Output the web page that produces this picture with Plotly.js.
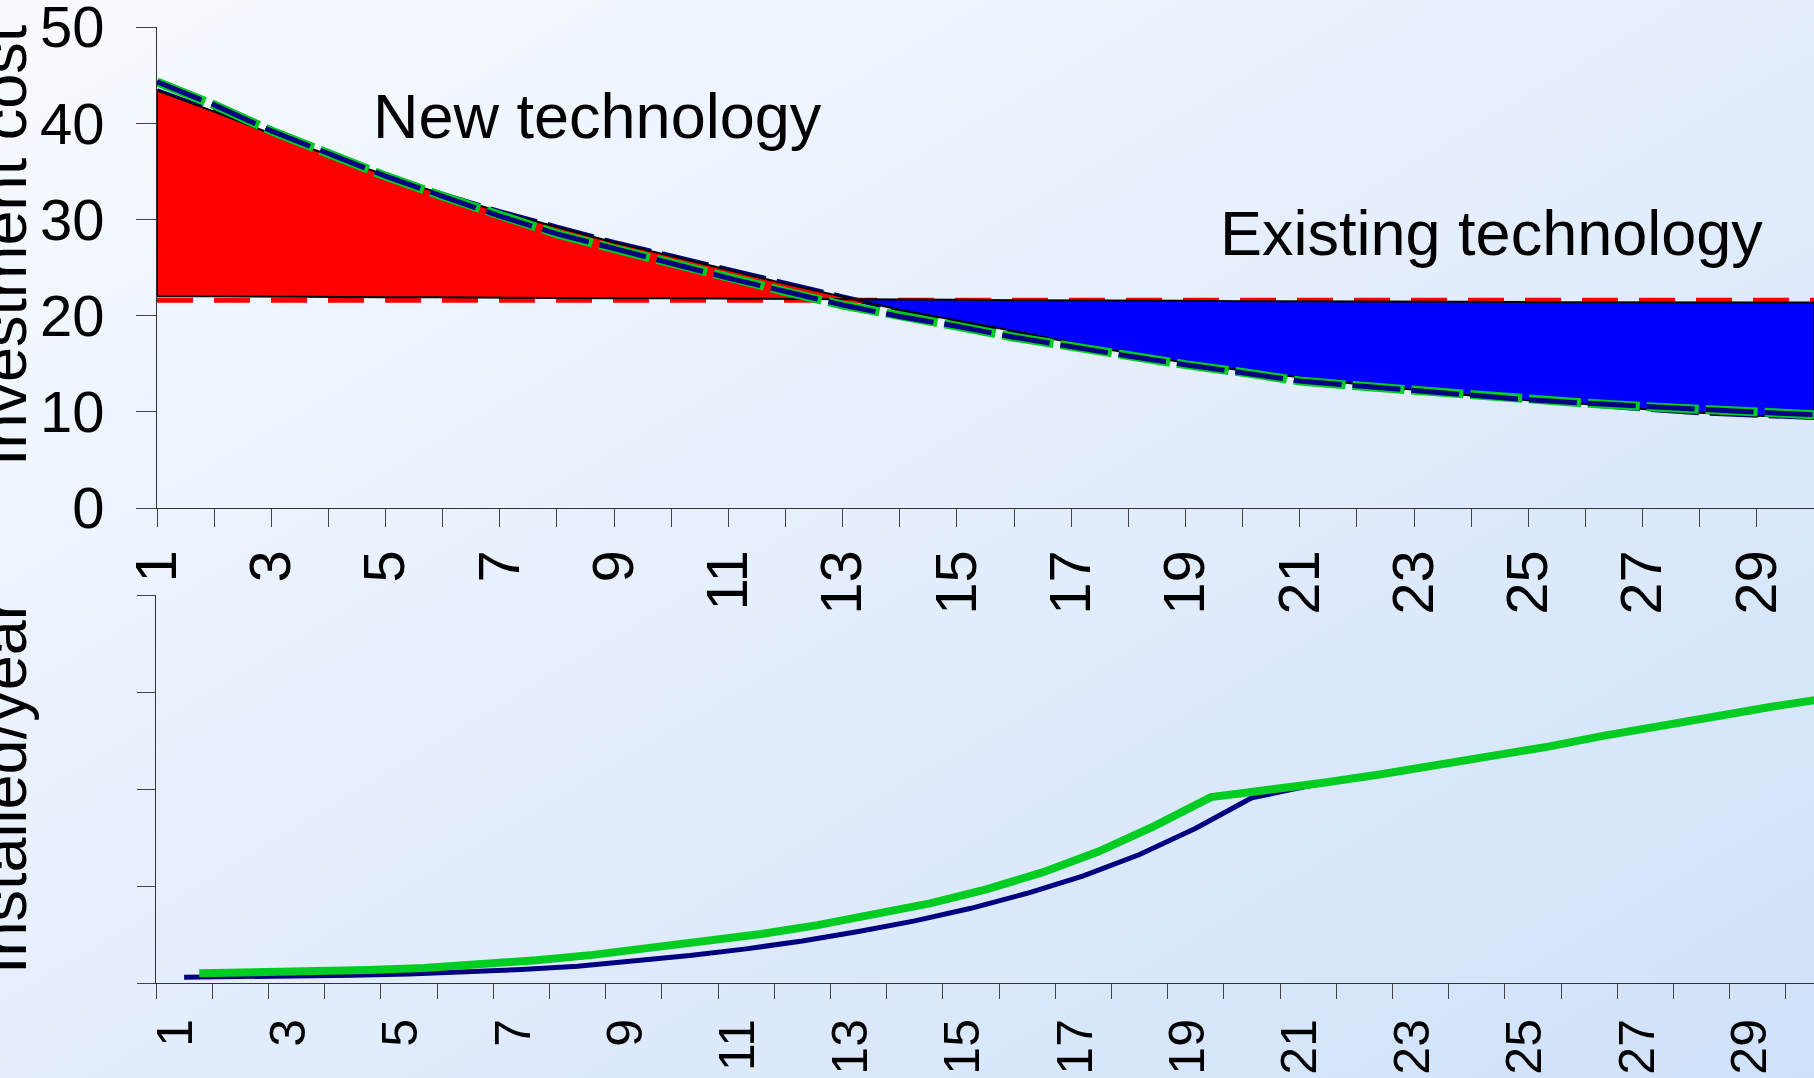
<!DOCTYPE html>
<html>
<head>
<meta charset="utf-8">
<script src="https://cdn.plot.ly/plotly-3.0.1.min.js"></script>
<style>
  html, body { margin: 0; padding: 0; overflow: hidden; }
  body { width: 1814px; height: 1078px;
         background: linear-gradient(to bottom right, #F8FBFF 0%, #E4EEFC 50%, #CFE1F9 100%); }
  #chart { width: 1814px; height: 1078px; }
</style>
</head>
<body>
<div id="chart"></div>
<script>
// ---------- data ----------
const years = [1,2,3,4,5,6,7,8,9,10,11,12,13,14,15,16,17,18,19,20,21,22,23,24,25,26,27,28,29,30];

// Investment cost of the new technology (outline of the shaded areas)
const newTechCost = [43.4,41.2,38.9,36.7,34.6,32.6,30.8,29.2,27.6,26.2,24.75,23.3,21.95,20.6,19.5,18.4,17.2,16.1,15.1,14.3,13.6,12.9,12.3,11.7,11.2,10.8,10.3,9.9,9.6,9.4];
// Investment cost of the new technology (dashed curve)
const newTechCurve = [44.3,41.9,39.2,36.8,34.5,32.4,30.35,28.5,26.95,25.4,23.9,22.5,21.1,19.9,18.9,17.75,16.75,15.8,14.9,14.1,13.2,12.7,12.2,11.7,11.25,10.9,10.55,10.2,9.95,9.7];
// Investment cost of the existing technology (outline of the shaded areas)
const existingCost = [22.0,22.0,21.95,21.95,21.9,21.9,21.85,21.85,21.8,21.8,21.75,21.75,21.7,21.7,21.65,21.6,21.6,21.55,21.55,21.5,21.5,21.5,21.45,21.45,21.4,21.4,21.4,21.35,21.35,21.35];
// Investment cost of the existing technology (red dashed line)
const existingCurve = [21.6,21.6,21.6,21.6,21.6,21.6,21.6,21.6,21.6,21.6,21.6,21.6,21.6,21.6,21.6,21.6,21.6,21.6,21.6,21.6,21.6,21.6,21.6,21.6,21.6,21.6,21.6,21.6,21.6,21.6];

// Installed per year (lower panel)
const installedBlue = [0.06,0.064,0.071,0.08,0.094,0.113,0.138,0.172,0.222,0.283,0.352,0.433,0.53,0.64,0.77,0.925,1.105,1.325,1.595,1.91,2.03,2.13,2.22,2.31,2.41,2.52,2.63,2.73,2.82,2.92];
const installedGreen = [0.10,0.108,0.118,0.133,0.155,0.19,0.235,0.29,0.355,0.423,0.505,0.597,0.70,0.82,0.965,1.14,1.355,1.62,1.916,1.986,2.064,2.15,2.24,2.335,2.437,2.55,2.66,2.75,2.85,2.94];

const titleTop = "Investment cost";
const titleBottom = "Installed/year";
const labelNew = "New technology";
const labelExisting = "Existing technology";

// ---------- derived shapes ----------
const oddYears = years.filter(y => y % 2 === 1);
const topTickText = years.map(y => (y % 2 === 1 ? String(y) : ''));
const boundaries = years.map(y => y - 0.5);

// crossing of new and existing technology cost
let ci = 0;
for (let i = 0; i < years.length - 1; i++) {
  if (newTechCost[i] >= existingCost[i] && newTechCost[i + 1] < existingCost[i + 1]) { ci = i; break; }
}
const d0 = newTechCost[ci] - existingCost[ci];
const d1 = newTechCost[ci + 1] - existingCost[ci + 1];
const t = d0 / (d0 - d1);
const xc = years[ci] + t * (years[ci + 1] - years[ci]);
const yc = existingCost[ci] + t * (existingCost[ci + 1] - existingCost[ci]);

// red polygon (new technology more expensive)
const redX = [], redY = [];
for (let i = 0; i <= ci; i++) { redX.push(years[i]); redY.push(newTechCost[i]); }
redX.push(xc); redY.push(yc);
for (let i = ci; i >= 0; i--) { redX.push(years[i]); redY.push(existingCost[i]); }
redX.push(years[0]); redY.push(newTechCost[0]);

// blue polygon (new technology cheaper)
const blueX = [xc], blueY = [yc];
for (let i = ci + 1; i < years.length; i++) { blueX.push(years[i]); blueY.push(existingCost[i]); }
for (let i = years.length - 1; i > ci; i--) { blueX.push(years[i]); blueY.push(newTechCost[i]); }
blueX.push(xc); blueY.push(yc);

const NAVY = '#000080', GREEN = '#00CC22', RED = '#FF0000', BLUE = '#0000FF';

const traces = [
  { x: years, y: newTechCost, type: 'scatter', mode: 'lines', xaxis: 'x', yaxis: 'y',
    line: { color: NAVY, width: 5, dash: '48px,11px' }, hoverinfo: 'skip' },
  { x: years, y: existingCurve, type: 'scatter', mode: 'lines', xaxis: 'x', yaxis: 'y',
    line: { color: RED, width: 5, dash: '36px,21px' }, hoverinfo: 'skip' },
  { x: redX, y: redY, type: 'scatter', mode: 'lines', fill: 'toself', fillcolor: RED,
    xaxis: 'x', yaxis: 'y', line: { color: '#000', width: 2 }, hoverinfo: 'skip' },
  { x: blueX, y: blueY, type: 'scatter', mode: 'lines', fill: 'toself', fillcolor: BLUE,
    xaxis: 'x', yaxis: 'y', line: { color: '#000', width: 2 }, hoverinfo: 'skip' },
  { x: years, y: newTechCurve, type: 'scatter', mode: 'lines', xaxis: 'x', yaxis: 'y',
    line: { color: GREEN, width: 9, dash: '52px,7px' }, hoverinfo: 'skip' },
  { x: years, y: newTechCurve, type: 'scatter', mode: 'lines', xaxis: 'x', yaxis: 'y',
    line: { color: NAVY, width: 5, dash: '48px,11px' }, hoverinfo: 'skip' },

  { x: years, y: installedBlue, type: 'scatter', mode: 'lines', xaxis: 'x2', yaxis: 'y2',
    line: { color: NAVY, width: 5 }, hoverinfo: 'skip' },
  { x: years, y: installedGreen, type: 'scatter', mode: 'lines', xaxis: 'x3', yaxis: 'y2',
    line: { color: GREEN, width: 8 }, hoverinfo: 'skip' }
];

const W = 1814, H = 1078;
const px = v => v / W;
const py = v => 1 - v / H;
const FONT = 'Liberation Sans, Arial, sans-serif';
const axisCommon = { showgrid: false, zeroline: false, showline: true, linecolor: '#333',
  linewidth: 1, ticks: 'outside', tickcolor: '#444', tickwidth: 1, ticklabeloverflow: 'allow' };

const layout = {
  width: W, height: H,
  margin: { l: 0, r: 0, t: 0, b: 0 },
  showlegend: false,
  paper_bgcolor: 'rgba(0,0,0,0)',
  plot_bgcolor: 'rgba(0,0,0,0)',
  font: { family: FONT, color: '#000' },
  xaxis: Object.assign({}, axisCommon, {
    domain: [px(157), 1], range: [1, 30], anchor: 'y',
    tickmode: 'array', tickvals: years, ticktext: topTickText,
    tickangle: -90, ticklen: 18, tickfont: { size: 58, family: FONT }
  }),
  yaxis: Object.assign({}, axisCommon, {
    domain: [py(508), py(27)], range: [0, 50], anchor: 'x',
    tickmode: 'array', tickvals: [0, 10, 20, 30, 40, 50], ticklen: 20,
    ticklabelstandoff: 20,
    tickfont: { size: 58, family: FONT }
  }),
  xaxis2: Object.assign({}, axisCommon, {
    domain: [px(156), 1], range: [0.5, 30], anchor: 'y2',
    tickmode: 'array', tickvals: oddYears, ticktext: oddYears.map(String),
    tickangle: -90, ticklen: 15, tickcolor: 'rgba(0,0,0,0)', ticklabelshift: -8,
    tickfont: { size: 50, family: FONT },
    minor: { tickmode: 'array', tickvals: boundaries, ticks: 'outside', ticklen: 15,
             tickcolor: '#444', tickwidth: 1, showgrid: false }
  }),
  yaxis2: Object.assign({}, axisCommon, {
    domain: [py(983), py(595)], range: [0, 4], anchor: 'x2',
    tickmode: 'linear', tick0: 0, dtick: 1, ticklen: 18, showticklabels: false
  }),
  xaxis3: { overlaying: 'x2', anchor: 'y2', range: [0.23, 29.73], visible: false,
            showgrid: false, zeroline: false },
  annotations: [
    { text: labelNew, xref: 'paper', yref: 'paper', x: px(371), y: py(116),
      xanchor: 'left', yanchor: 'middle', showarrow: false, font: { size: 63, family: FONT, color: '#000' } },
    { text: labelExisting, xref: 'paper', yref: 'paper', x: px(1218), y: py(233),
      xanchor: 'left', yanchor: 'middle', showarrow: false, font: { size: 63, family: FONT, color: '#000' } },
    { text: titleTop, xref: 'paper', yref: 'paper', x: px(4), y: py(245), textangle: -90,
      xanchor: 'center', yanchor: 'middle', showarrow: false, font: { size: 63, family: FONT, color: '#000' } },
    { text: titleBottom, xref: 'paper', yref: 'paper', x: px(4), y: py(787), textangle: -90,
      xanchor: 'center', yanchor: 'middle', showarrow: false, font: { size: 63, family: FONT, color: '#000' } }
  ]
};

Plotly.newPlot('chart', traces, layout, { displayModeBar: false, staticPlot: true });
</script>
</body>
</html>
